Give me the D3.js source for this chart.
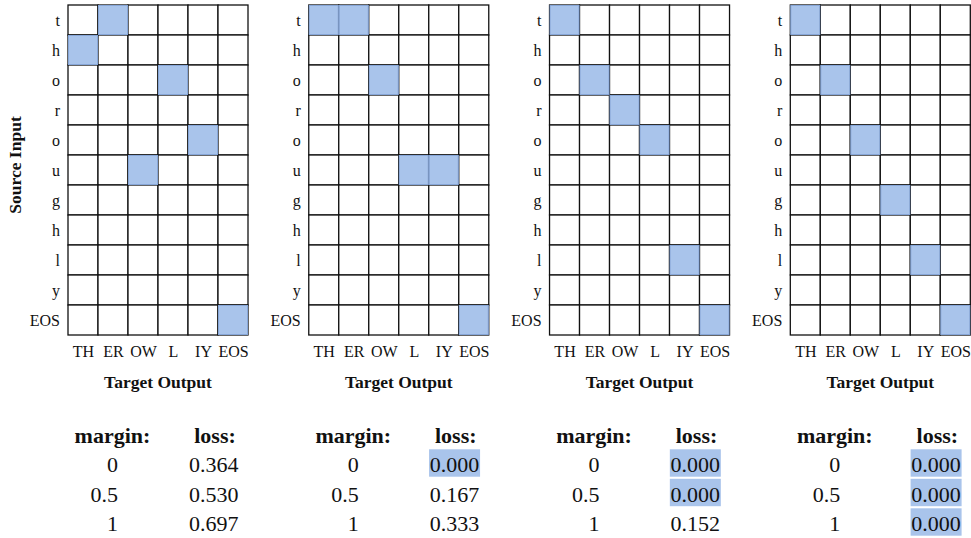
<!DOCTYPE html>
<html><head><meta charset="utf-8">
<script src="https://cdn.jsdelivr.net/npm/d3@7"></script>
<style>body{margin:0;background:#fff}svg{display:block}</style>
</head><body>
<script>
const sourceRows = ["t","h","o","r","o","u","g","h","l","y","EOS"];
const targetCols = ["TH","ER","OW","L","IY","EOS"];
// highlighted cells per panel: [rowIndex, colIndex]
const panel1Cells = [[0,1],[1,0],[2,3],[4,4],[5,2],[10,5]];
const panel2Cells = [[0,0],[0,1],[2,2],[5,3],[5,4],[10,5]];
const panel3Cells = [[0,0],[2,1],[3,2],[4,3],[8,4],[10,5]];
const panel4Cells = [[0,0],[2,1],[4,2],[6,3],[8,4],[10,5]];
const margins = ["0","0.5","1"];
const panel1Loss = ["0.364","0.530","0.697"];
const panel2Loss = ["0.000","0.167","0.333"];
const panel3Loss = ["0.000","0.000","0.152"];
const panel4Loss = ["0.000","0.000","0.000"];
const panels = [
  {cells: panel1Cells, loss: panel1Loss},
  {cells: panel2Cells, loss: panel2Loss},
  {cells: panel3Cells, loss: panel3Loss},
  {cells: panel4Cells, loss: panel4Loss}
];

const W = 971, H = 538;
const blue = "#a9c4eb";
const FF = "Liberation Serif";
const svg = d3.select("body").append("svg").attr("width", W).attr("height", H)
  .attr("font-family", FF);

const cell = 30, gridTop = 5;
const x0 = d3.scaleLinear().domain([0, 3]).range([68, 790.3]);
const colScale = d3.scaleBand().domain(d3.range(targetCols.length)).range([0, cell*targetCols.length]);
const rowScale = d3.scaleBand().domain(d3.range(sourceRows.length)).range([gridTop, gridTop + cell*sourceRows.length]);
const tableY = d3.scalePoint().domain(d3.range(margins.length)).range([472, 531]);

function txt(sel) { return sel.append("text").attr("font-family", FF).attr("fill", "#111"); }

panels.forEach((p, i) => {
  const g = svg.append("g").attr("transform", `translate(${x0(i)},0)`);
  const all = [];
  sourceRows.forEach((r, ri) => targetCols.forEach((c, ci) => all.push([ri, ci])));
  g.selectAll("rect.c").data(all).enter().append("rect")
    .attr("x", d => colScale(d[1])).attr("y", d => rowScale(d[0]))
    .attr("width", colScale.bandwidth()).attr("height", rowScale.bandwidth())
    .attr("fill", "#fff").attr("stroke", "#111").attr("stroke-width", 1.3);
  g.selectAll("rect.h").data(p.cells).enter().append("rect")
    .attr("x", d => colScale(d[1]) + 0.5).attr("y", d => rowScale(d[0]) + 0.5)
    .attr("width", colScale.bandwidth() - 1).attr("height", rowScale.bandwidth() - 1)
    .attr("fill", blue).attr("stroke", "#86a6d8").attr("stroke-width", 1);
  g.selectAll("text.r").data(sourceRows).enter().append("text")
    .attr("font-family", FF).attr("fill", "#111")
    .attr("x", -8).attr("y", (d, k) => rowScale(k) + rowScale.bandwidth()/2 + 6)
    .attr("text-anchor", "end").attr("font-size", 16).text(d => d);
  g.selectAll("text.cl").data(targetCols).enter().append("text")
    .attr("font-family", FF).attr("fill", "#111")
    .attr("x", (d, k) => colScale(k) + colScale.bandwidth()/2 + 0.5).attr("y", 357)
    .attr("text-anchor", "middle").attr("font-size", 16).text(d => d);
  txt(g).attr("x", 90).attr("y", 388).attr("text-anchor", "middle")
    .attr("font-size", 17.5).attr("font-weight", "bold").text("Target Output");
  txt(g).attr("x", 44.5).attr("y", 443).attr("text-anchor", "middle")
    .attr("font-size", 22).attr("font-weight", "bold").text("margin:");
  txt(g).attr("x", 147).attr("y", 443).attr("text-anchor", "middle")
    .attr("font-size", 22).attr("font-weight", "bold").text("loss:");
  g.selectAll("text.m").data(margins).enter().append("text")
    .attr("font-family", FF).attr("fill", "#111")
    .attr("x", 50).attr("y", (d, k) => tableY(k)).attr("text-anchor", "end")
    .attr("font-size", 22).text(d => d);
  const lossData = p.loss.map((v, k) => ({v, k}));
  g.selectAll("rect.l").data(lossData.filter(d => +d.v === 0)).enter().append("rect")
    .attr("x", 120.3).attr("y", d => tableY(d.k) - 22.7)
    .attr("width", 51).attr("height", 27.4).attr("fill", blue);
  g.selectAll("text.l").data(lossData).enter().append("text")
    .attr("font-family", FF).attr("fill", "#111")
    .attr("x", 145.8).attr("y", d => tableY(d.k)).attr("text-anchor", "middle")
    .attr("font-size", 22).text(d => d.v);
});

txt(svg).attr("transform", "translate(21,165) rotate(-90)")
  .attr("text-anchor", "middle").attr("font-size", 17.5).attr("font-weight", "bold")
  .text("Source Input");
</script>
</body></html>
